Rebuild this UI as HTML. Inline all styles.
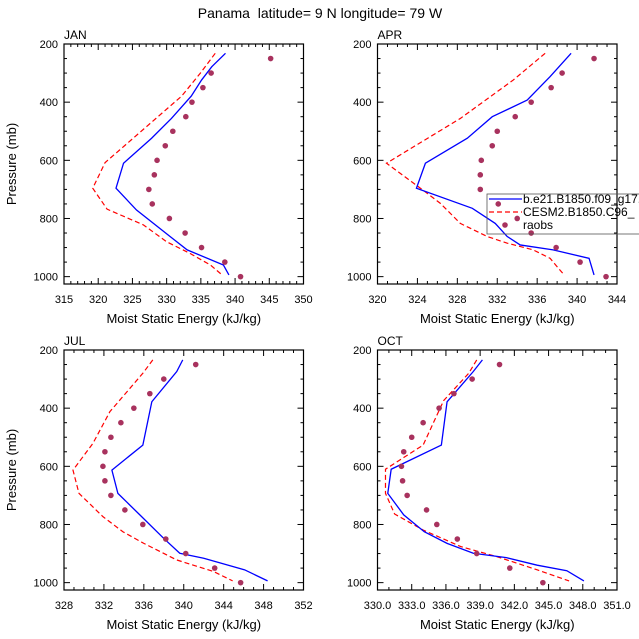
<!DOCTYPE html>
<html><head><meta charset="utf-8"><style>
html,body{margin:0;padding:0;background:#fff;}
svg{display:block;font-family:"Liberation Sans",Helvetica,sans-serif;}
</style></head><body>
<svg id="chart" width="639" height="639" viewBox="0 0 639 639">
<text x="320" y="18" text-anchor="middle" font-size="14">Panama &#160;latitude= 9 N longitude= 79 W</text>
</svg>
<script>
const obsP=[250,300,350,400,450,500,550,600,650,700,750,800,850,900,950,1000];
const janBlueP=[232,278,324,379,456,524,610,696,771,862,908,960,994];
const janBlue=[338.6,336.6,335.1,333.6,330.7,327.8,323.7,322.6,325.6,330.5,333,338.3,339.1];
const janRedP=[232,301,379,473,608,696,768,822,880,920,960,994];
const janRed=[337.1,334.9,332.2,327.6,321,319.2,321.3,326.6,330,333.4,336.4,338.1];
const janObs=[345.2,336.5,335.3,333.7,332.8,330.9,329.8,328.6,328.2,327.4,327.9,330.4,332.7,335.1,338.5,340.8];
const aprBlueP=[232,312,393,450,524,610,696,765,817,862,891,908,937,994];
const aprBlue=[339.4,337.3,335,331.5,329,324.8,323.9,329.5,331.8,333,334.3,337.6,341.2,341.7];
const aprRedP=[232,324,456,610,696,748,817,862,885,908,937,966,994];
const aprRed=[336.8,333.6,328.3,320.9,324.3,326.3,328.3,331,333,335.6,337.3,338,338.7];
const aprObs=[341.7,338.5,337.4,335.4,333.8,332.0,331.5,330.4,330.3,330.3,332.1,334.0,335.4,337.9,340.3,342.9];
const julBlueP=[234,274,378,527,613,693,767,848,899,916,956,994];
const julBlue=[339.9,339.3,336.8,335.9,332.8,333.4,335.6,338,339.6,342,346.1,348.4];
const julRedP=[234,280,412,521,613,693,773,825,865,922,962,994];
const julRed=[336.9,335.9,332.6,330.9,328.9,329.5,331.9,333.9,336,339.3,343,344.9];
const julObs=[341.2,338.0,336.6,335.0,333.7,332.7,332.1,331.9,332.1,332.7,334.1,335.9,338.2,340.2,343.1,345.7];
const octBlueP=[234,274,378,527,610,693,767,825,865,899,914,940,959,994];
const octBlue=[339.2,338.4,336.1,335.6,331.2,330.9,332.3,334.1,336.1,338.4,341.3,344,346.6,348.1];
const octRedP=[234,280,374,527,610,693,764,819,876,911,956,994];
const octRed=[338.7,338,335.8,334,330.7,330.7,331.5,334,337.3,340.5,344,346.8];
const octObs=[340.7,338.3,336.7,335.4,334,333,332.3,332.1,332.2,332.6,334.3,335.2,337,338.7,341.6,344.5];
const janTicks=[315,320,325,330,335,340,345,350];
const aprTicks=[320,324,328,332,336,340,344];
const julTicks=[328,332,336,340,344,348,352];
const octTicks=["330.0","333.0","336.0","339.0","342.0","345.0","348.0","351.0"];
const pTicks=[200,400,600,800,1000];

const NS="http://www.w3.org/2000/svg";
const svg=document.getElementById('chart');
function mk(tag,attrs,parent){const e=document.createElementNS(NS,tag);for(const k in attrs)e.setAttribute(k,attrs[k]);(parent||svg).appendChild(e);return e;}

const panels=[
 {name:'jan',label:'JAN',x0:64,y0:44,ticks:janTicks,minor:5,bp:janBlueP,b:janBlue,rp:janRedP,r:janRed,o:janObs,ylab:true},
 {name:'apr',label:'APR',x0:377.5,y0:44,ticks:aprTicks,minor:4,bp:aprBlueP,b:aprBlue,rp:aprRedP,r:aprRed,o:aprObs,ylab:false},
 {name:'jul',label:'JUL',x0:64,y0:350,ticks:julTicks,minor:4,bp:julBlueP,b:julBlue,rp:julRedP,r:julRed,o:julObs,ylab:true},
 {name:'oct',label:'OCT',x0:377.5,y0:350,ticks:octTicks,minor:3,bp:octBlueP,b:octBlue,rp:octRedP,r:octRed,o:octObs,ylab:false}
];
const W=239.5,H=240;
panels.forEach(pn=>{
 const g=mk('g',{});
 
 
 const tv=pn.ticks.map(Number);
 const xmin=tv[0],xmax=tv[tv.length-1];
 const X=v=>pn.x0+(v-xmin)/(xmax-xmin)*W;
 const Y=p=>pn.y0+(p-200)*0.2908;
 const step=tv[1]-tv[0];
 for(let i=0;i<tv.length;i++){
  const x=X(tv[i]);
  mk('line',{x1:x,x2:x,y1:pn.y0+H,y2:pn.y0+H-6,stroke:'#000','stroke-width':1},g);
  mk('line',{x1:x,x2:x,y1:pn.y0,y2:pn.y0+6,stroke:'#000','stroke-width':1},g);
  const t=mk('text',{x:x,y:pn.y0+H+19,'text-anchor':'middle','font-size':11},g);t.textContent=pn.ticks[i];
  
  if(i<tv.length-1)for(let m=1;m<pn.minor;m++){const xm=X(tv[i]+step*m/pn.minor);
   mk('line',{x1:xm,x2:xm,y1:pn.y0+H,y2:pn.y0+H-3,stroke:'#000','stroke-width':1},g);
   mk('line',{x1:xm,x2:xm,y1:pn.y0,y2:pn.y0+3,stroke:'#000','stroke-width':1},g);}
 }
 for(let p=200;p<=1000;p+=50){const y=Y(p),maj=p%200===0;const L=maj?6:3;
  mk('line',{x1:pn.x0,x2:pn.x0+L,y1:y,y2:y,stroke:'#000','stroke-width':1},g);
  mk('line',{x1:pn.x0+W,x2:pn.x0+W-L,y1:y,y2:y,stroke:'#000','stroke-width':1},g);}
 pTicks.forEach(p=>{const t=mk('text',{x:pn.x0-6,y:Y(p)+4,'text-anchor':'end','font-size':11},g);t.textContent=p;
  });
 mk('rect',{x:pn.x0,y:pn.y0,width:W,height:H,fill:'none',stroke:'#000','stroke-width':1.2},g);
 const lt=mk('text',{x:pn.x0,y:pn.y0-5,'font-size':12},g);lt.textContent=pn.label;
 
 const xt=mk('text',{x:pn.x0+W/2,y:pn.y0+H+39,'text-anchor':'middle','font-size':13},g);xt.textContent='Moist Static Energy (kJ/kg)';
 
 if(pn.ylab){const cy=pn.y0+H/2;const yt=mk('text',{x:16,y:cy,'text-anchor':'middle','font-size':13,transform:`rotate(-90 16 ${cy})`},g);yt.textContent='Pressure (mb)';
  }
 const rl=mk('polyline',{points:pn.r.map((v,i)=>X(v)+','+Y(pn.rp[i])).join(' '),fill:'none',stroke:'#ff0000','stroke-width':1.2,'stroke-dasharray':'5,3'},g);
 
 const bl=mk('polyline',{points:pn.b.map((v,i)=>X(v)+','+Y(pn.bp[i])).join(' '),fill:'none',stroke:'#0000ff','stroke-width':1.3},g);
 
 pn.o.forEach((v,i)=>{const c=mk('circle',{cx:X(v),cy:Y(obsP[i]),r:2.8,fill:'#a8325e'},g);
  });
});
const lg=mk('g',{});


mk('rect',{x:487,y:194,width:160,height:40,fill:'none',stroke:'#555','stroke-width':0.8},lg);
mk('line',{x1:489,x2:522,y1:199,y2:199,stroke:'#0000ff','stroke-width':1.3},lg);
mk('line',{x1:489,x2:522,y1:212,y2:212,stroke:'#ff0000','stroke-width':1.2,'stroke-dasharray':'5,3'},lg);
mk('circle',{cx:505,cy:225,r:2.8,fill:'#a8325e'},lg);
[['b.e21.B1850.f09_g17.CMIP6',203],['CESM2.B1850.C96_',216],['raobs',229]].forEach(([s,y])=>{
 const t=mk('text',{x:523,y:y,'font-size':12},lg);t.textContent=s;
 });
</script>
</body></html>
